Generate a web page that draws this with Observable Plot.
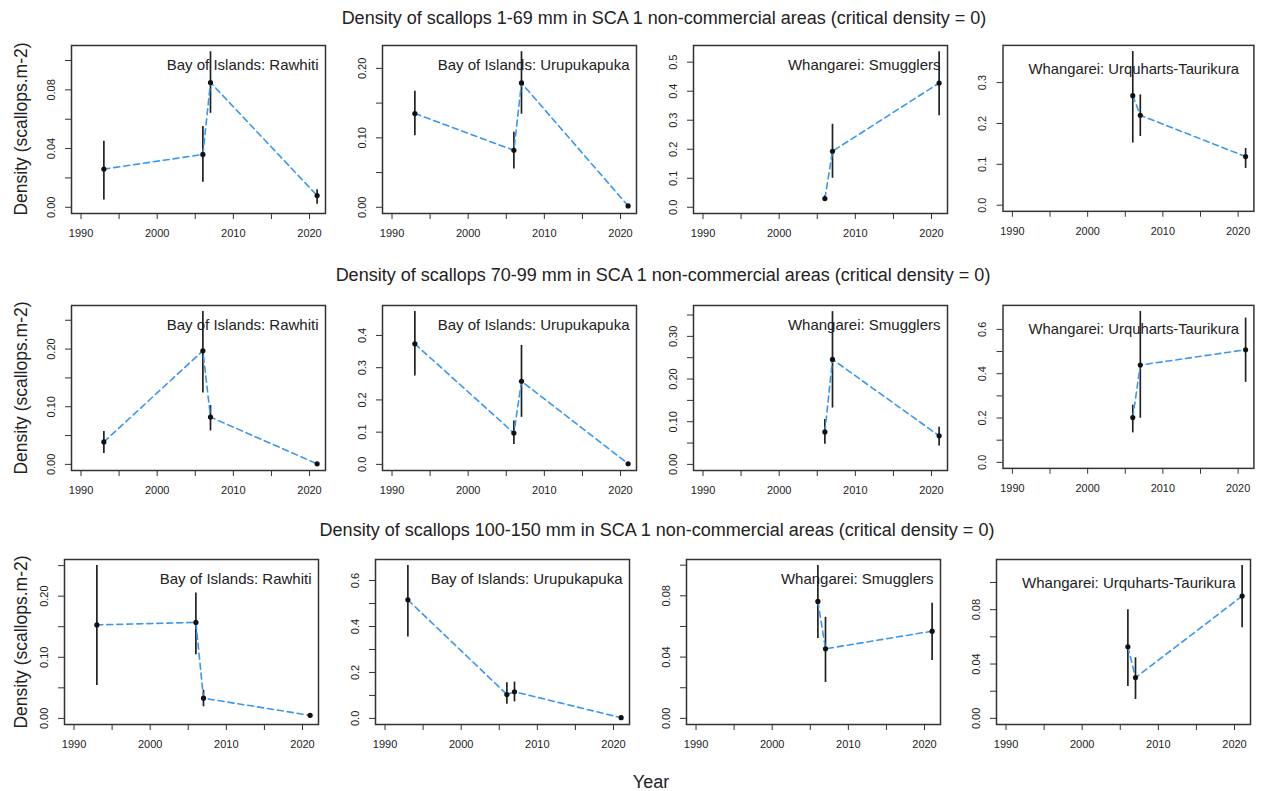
<!DOCTYPE html>
<html><head><meta charset="utf-8">
<script src="https://cdn.jsdelivr.net/npm/d3@7"></script>
<script src="https://cdn.jsdelivr.net/npm/@observablehq/plot@0.6"></script>
<style>
body{margin:0;background:#fff;}
#root{position:relative;width:1261px;height:791px;background:#fff;font-family:"Liberation Sans",Arial,sans-serif;color:#222;overflow:hidden}
.t{position:absolute;white-space:nowrap;font-size:18px;transform:translate(-50%,-50%)}
.yl{position:absolute;white-space:nowrap;font-size:17.5px;transform:translate(-50%,-50%) rotate(-90deg)}
.p{position:absolute}
</style></head><body><div id="root"></div>
<script>
const sizeClasses = ["1-69", "70-99", "100-150"];
const sites = ["Bay of Islands: Rawhiti", "Bay of Islands: Urupukapuka", "Whangarei: Smugglers", "Whangarei: Urquharts-Taurikura"];
const siteYears = [[1993, 2006, 2007, 2021], [1993, 2006, 2007, 2021], [2006, 2007, 2021], [2006, 2007, 2021]];

const density_1_69 = [[0.026, 0.036, 0.085, 0.008], [0.135, 0.082, 0.179, 0.002], [0.030, 0.193, 0.428], [0.268, 0.220, 0.119]];
const lower_1_69   = [[0.005, 0.017, 0.064, 0.002], [0.103, 0.055, 0.134, 0.001], [0.021, 0.100, 0.315], [0.152, 0.168, 0.090]];
const upper_1_69   = [[0.045, 0.055, 0.106, 0.012], [0.167, 0.108, 0.224, 0.003], [0.040, 0.286, 0.536], [0.376, 0.270, 0.139]];

const density_70_99 = [[0.039, 0.197, 0.082, 0.001], [0.374, 0.097, 0.258, 0.002], [0.076, 0.246, 0.067], [0.202, 0.439, 0.508]];
const lower_70_99   = [[0.019, 0.124, 0.058, 0.000], [0.274, 0.062, 0.146, 0.001], [0.047, 0.132, 0.043], [0.133, 0.199, 0.361]];
const upper_70_99   = [[0.057, 0.265, 0.102, 0.002], [0.474, 0.135, 0.369, 0.003], [0.105, 0.358, 0.087], [0.258, 0.681, 0.651]];

const density_100_150 = [[0.153, 0.157, 0.033, 0.005], [0.516, 0.104, 0.116, 0.003], [0.0763, 0.0454, 0.0569], [0.0527, 0.030, 0.090]];
const lower_100_150   = [[0.054, 0.104, 0.019, 0.004], [0.354, 0.061, 0.072, 0.002], [0.0521, 0.0234, 0.0378], [0.0234, 0.0139, 0.0666]];
const upper_100_150   = [[0.250, 0.205, 0.046, 0.007], [0.665, 0.155, 0.158, 0.004], [0.0997, 0.066, 0.0752], [0.080, 0.0446, 0.1124]];

const yTicks_1_69 = [[0, 0.02, 0.04, 0.06, 0.08, 0.10], [0, 0.05, 0.10, 0.15, 0.20], [0, 0.1, 0.2, 0.3, 0.4, 0.5], [0, 0.1, 0.2, 0.3]];
const yLabels_1_69 = [["0.00", "0.04", "0.08"], ["0.00", "0.10", "0.20"], ["0.0", "0.1", "0.2", "0.3", "0.4", "0.5"], ["0.0", "0.1", "0.2", "0.3"]];
const yTicks_70_99 = [[0, 0.05, 0.10, 0.15, 0.20, 0.25], [0, 0.1, 0.2, 0.3, 0.4], [0, 0.05, 0.10, 0.15, 0.20, 0.25, 0.30, 0.35], [0, 0.1, 0.2, 0.3, 0.4, 0.5, 0.6]];
const yLabels_70_99 = [["0.00", "0.10", "0.20"], ["0.0", "0.1", "0.2", "0.3", "0.4"], ["0.00", "0.10", "0.20", "0.30"], ["0.0", "0.2", "0.4", "0.6"]];
const yTicks_100_150 = [[0, 0.05, 0.10, 0.15, 0.20, 0.25], [0, 0.1, 0.2, 0.3, 0.4, 0.5, 0.6], [0, 0.02, 0.04, 0.06, 0.08, 0.10], [0, 0.02, 0.04, 0.06, 0.08, 0.10]];
const yLabels_100_150 = [["0.00", "0.10", "0.20"], ["0.0", "0.2", "0.4", "0.6"], ["0.00", "0.04", "0.08"], ["0.00", "0.04", "0.08"]];

const xTicks = [1990, 1995, 2000, 2005, 2010, 2015, 2020];
const xLabels = ["1990", "2000", "2010", "2020"];

const yAxisTitle = "Density (scallops.m-2)";
const xAxisTitle = "Year";
const rowTitle = s => `Density of scallops ${s} mm in SCA 1 non-commercial areas (critical density = 0)`;

// ---- layout ----
const dens = [density_1_69, density_70_99, density_100_150];
const lows = [lower_1_69, lower_70_99, lower_100_150];
const ups = [upper_1_69, upper_70_99, upper_100_150];
const yT = [yTicks_1_69, yTicks_70_99, yTicks_100_150];
const yL = [yLabels_1_69, yLabels_70_99, yLabels_100_150];

const root = document.getElementById("root");
const boxTop = [45, 305, 559];
const boxH = [168, 165, 165];
const colLeft = [70.7, 381.7, 692.7, 1002.7];
const rowShift = [0, 0, -6.3];
const boxW = 254;
const mL = 40, mT = 8, mR = 8, mB = 40;
const titleX = [664, 663, 657], titleY = [18, 275, 530];

function label(cls, text, x, y) {
  const el = document.createElement("div");
  el.className = cls; el.textContent = text;
  el.style.left = x + "px"; el.style.top = y + "px";
  root.appendChild(el);
}

for (let r = 0; r < 3; r++) {
  label("t", rowTitle(sizeClasses[r]), titleX[r], titleY[r]);
  label("yl", yAxisTitle, 21, boxTop[r] + boxH[r] / 2);
  for (let c = 0; c < 4; c++) {
    const data = siteYears[c].map((yr, i) => ({year: yr, d: dens[r][c][i], lo: lows[r][c][i], hi: ups[r][c][i]}));
    const maxU = d3.max(data, d => d.hi);
    const labs = yL[r][c];
    const fmt = v => labs.find(l => Math.abs(parseFloat(l) - v) < 1e-9) ?? "";
    const col4 = c === 3;
    const chart = Plot.plot({
      width: boxW + mL + mR,
      height: boxH[r] + mT + mB,
      marginLeft: mL, marginTop: mT, marginRight: mR, marginBottom: mB,
      style: {fontFamily: '"Liberation Sans", Arial, sans-serif', fontSize: "11px", color: "#333", background: "transparent", overflow: "visible"},
      x: {domain: [1988.75, 2022.1]},
      y: {domain: [-0.04 * maxU, 1.04 * maxU]},
      marks: [
        Plot.axisX({ticks: xTicks, tickFormat: v => xLabels.includes(String(v)) ? String(v) : "", tickSize: 6, tickPadding: 10, label: null, fill: "#222"}),
        Plot.axisY({ticks: yT[r][c], tickFormat: fmt, tickSize: 6, tickPadding: 11, tickRotate: -90, label: null, fill: "#222"}),
        Plot.ruleX(data, {x: "year", y1: "lo", y2: "hi", stroke: "#222", strokeWidth: 1.7}),
        Plot.line(data, {x: "year", y: "d", stroke: "#3a97f0", strokeWidth: 1.6, strokeDasharray: "6,4"}),
        Plot.dot(data, {x: "year", y: "d", r: 2.6, fill: "#111", stroke: "none"}),
        Plot.text([sites[c]], {text: d => d, frameAnchor: "top-right", dx: col4 ? -15 : -7, dy: col4 ? 24 : 20, lineAnchor: "middle", textAnchor: "end", fontSize: 15, fill: "#222"}),
        Plot.frame({stroke: "#333", strokeWidth: 1.5})
      ]
    });
    const wrap = document.createElement("div");
    wrap.className = "p";
    wrap.style.left = (colLeft[c] + rowShift[r] - mL) + "px";
    wrap.style.top = (boxTop[r] - mT) + "px";
    wrap.appendChild(chart);
    root.appendChild(wrap);
  }
}
label("t", xAxisTitle, 651, 782);
</script>
</body></html>
